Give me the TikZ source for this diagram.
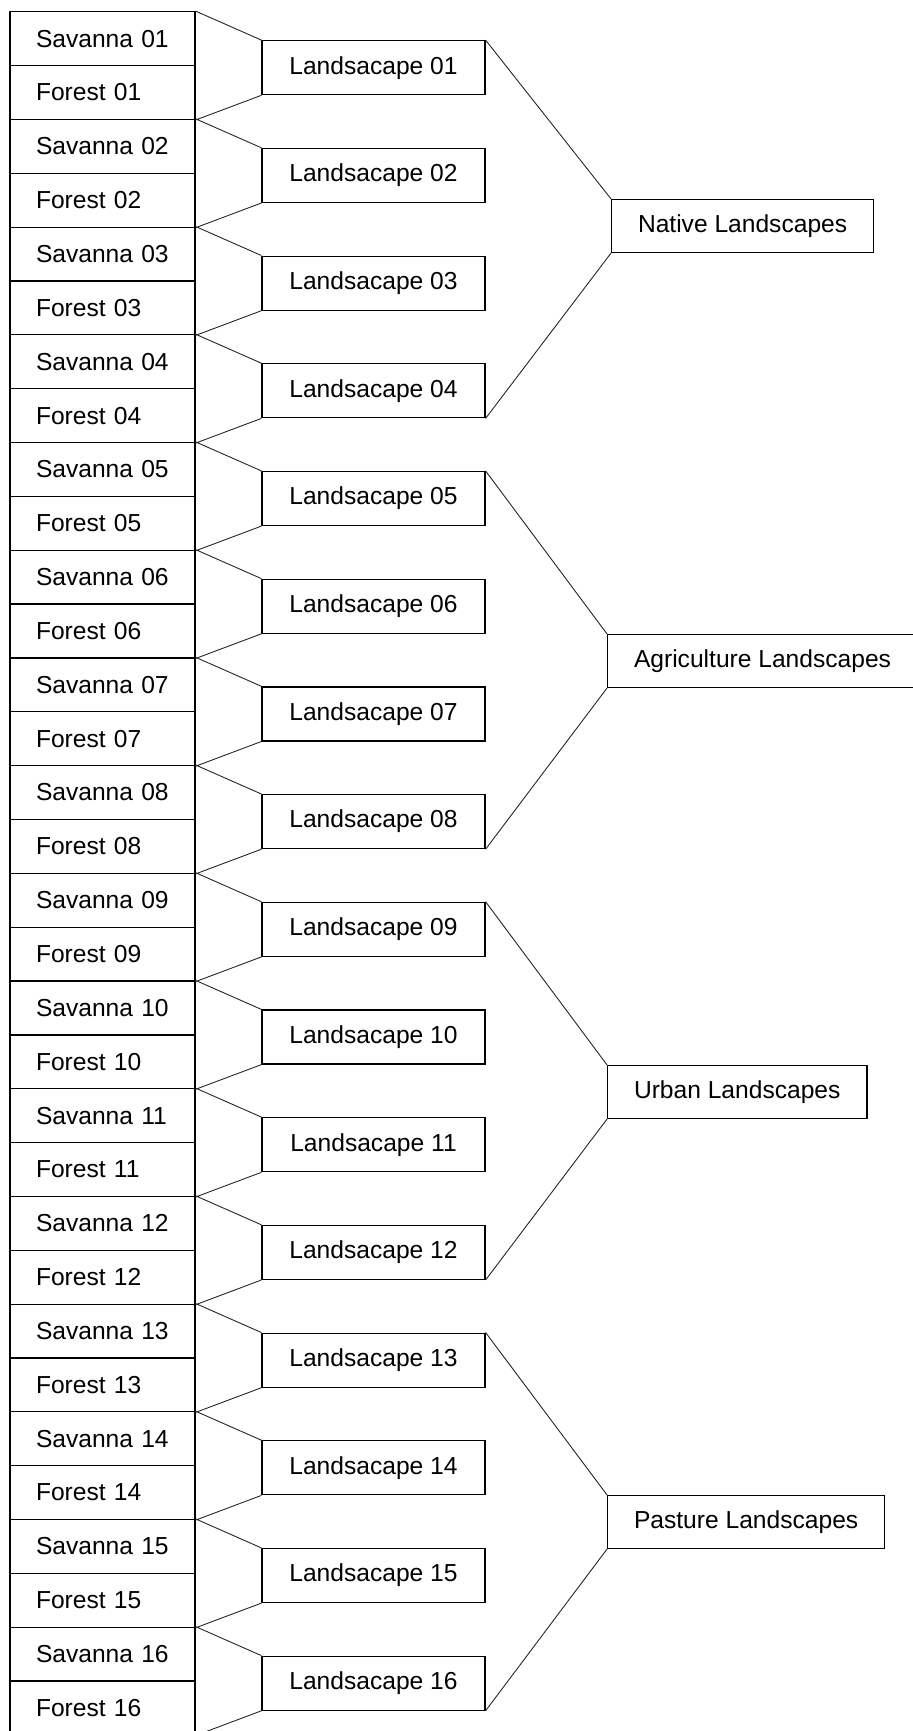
\documentclass[tikz,border=0pt]{standalone}
\usepackage{fontspec}
\setmainfont{Liberation Sans}
\usepackage{tikz}

\begin{document}
\begin{tikzpicture}[x=.5pt,y=-.5pt,
    font=\fontsize{12.3}{14}\selectfont,
    cell/.style={draw,line width=.6pt,text width=66.5pt,align=left,
                 inner xsep=13pt,inner ysep=0pt,minimum height=26.9pt},
    land/.style={draw,line width=.6pt,minimum width=111.5pt,minimum height=27pt,inner sep=0pt},
    group/.style={draw,line width=.6pt,anchor=west,inner xsep=13.2pt,minimum height=26.5pt},
    link/.style={line width=.45pt,black!85}]
    \useasboundingbox (0,0) rectangle (913,1731);
    \clip (0,0) rectangle (913,1731);

    \node[cell] (s1) at (102.5,38.6) {Savanna 01};
    \node[cell] (f1) at (102.5,92.5) {Forest 01};
    \node[cell] (s2) at (102.5,146.3) {Savanna 02};
    \node[cell] (f2) at (102.5,200.2) {Forest 02};
    \node[cell] (s3) at (102.5,254.0) {Savanna 03};
    \node[cell] (f3) at (102.5,307.9) {Forest 03};
    \node[cell] (s4) at (102.5,361.7) {Savanna 04};
    \node[cell] (f4) at (102.5,415.6) {Forest 04};
    \node[cell] (s5) at (102.5,469.4) {Savanna 05};
    \node[cell] (f5) at (102.5,523.3) {Forest 05};
    \node[cell] (s6) at (102.5,577.1) {Savanna 06};
    \node[cell] (f6) at (102.5,631.0) {Forest 06};
    \node[cell] (s7) at (102.5,684.8) {Savanna 07};
    \node[cell] (f7) at (102.5,738.7) {Forest 07};
    \node[cell] (s8) at (102.5,792.5) {Savanna 08};
    \node[cell] (f8) at (102.5,846.4) {Forest 08};
    \node[cell] (s9) at (102.5,900.2) {Savanna 09};
    \node[cell] (f9) at (102.5,954.1) {Forest 09};
    \node[cell] (s10) at (102.5,1007.9) {Savanna 10};
    \node[cell] (f10) at (102.5,1061.8) {Forest 10};
    \node[cell] (s11) at (102.5,1115.6) {Savanna 11};
    \node[cell] (f11) at (102.5,1169.5) {Forest 11};
    \node[cell] (s12) at (102.5,1223.3) {Savanna 12};
    \node[cell] (f12) at (102.5,1277.2) {Forest 12};
    \node[cell] (s13) at (102.5,1331.0) {Savanna 13};
    \node[cell] (f13) at (102.5,1384.9) {Forest 13};
    \node[cell] (s14) at (102.5,1438.7) {Savanna 14};
    \node[cell] (f14) at (102.5,1492.6) {Forest 14};
    \node[cell] (s15) at (102.5,1546.4) {Savanna 15};
    \node[cell] (f15) at (102.5,1600.3) {Forest 15};
    \node[cell] (s16) at (102.5,1654.1) {Savanna 16};
    \node[cell] (f16) at (102.5,1708.0) {Forest 16};

    \node[land] (l1) at (373.5,67.7) {Landsacape 01};
    \node[land] (l2) at (373.5,175.4) {Landsacape 02};
    \node[land] (l3) at (373.5,283.1) {Landsacape 03};
    \node[land] (l4) at (373.5,390.8) {Landsacape 04};
    \node[land] (l5) at (373.5,498.5) {Landsacape 05};
    \node[land] (l6) at (373.5,606.2) {Landsacape 06};
    \node[land] (l7) at (373.5,713.9) {Landsacape 07};
    \node[land] (l8) at (373.5,821.6) {Landsacape 08};
    \node[land] (l9) at (373.5,929.3) {Landsacape 09};
    \node[land] (l10) at (373.5,1037.0) {Landsacape 10};
    \node[land] (l11) at (373.5,1144.7) {Landsacape 11};
    \node[land] (l12) at (373.5,1252.4) {Landsacape 12};
    \node[land] (l13) at (373.5,1360.1) {Landsacape 13};
    \node[land] (l14) at (373.5,1467.8) {Landsacape 14};
    \node[land] (l15) at (373.5,1575.5) {Landsacape 15};
    \node[land] (l16) at (373.5,1683.2) {Landsacape 16};

    \node[group] (native) at (611,226) {Native Landscapes};
    \node[group] (agri) at (607,661) {Agriculture Landscapes};
    \node[group] (urban) at (607,1092) {Urban Landscapes};
    \node[group] (pasture) at (607,1522) {Pasture Landscapes};

    % savanna / forest pairs
    \draw[link] (s1.north east)--(l1.north west) (f1.south east)--(l1.south west)
          (s2.north east)--(l2.north west) (f2.south east)--(l2.south west)
          (s3.north east)--(l3.north west) (f3.south east)--(l3.south west)
          (s4.north east)--(l4.north west) (f4.south east)--(l4.south west)
          (s5.north east)--(l5.north west) (f5.south east)--(l5.south west)
          (s6.north east)--(l6.north west) (f6.south east)--(l6.south west)
          (s7.north east)--(l7.north west) (f7.south east)--(l7.south west)
          (s8.north east)--(l8.north west) (f8.south east)--(l8.south west)
          (s9.north east)--(l9.north west) (f9.south east)--(l9.south west)
          (s10.north east)--(l10.north west) (f10.south east)--(l10.south west)
          (s11.north east)--(l11.north west) (f11.south east)--(l11.south west)
          (s12.north east)--(l12.north west) (f12.south east)--(l12.south west)
          (s13.north east)--(l13.north west) (f13.south east)--(l13.south west)
          (s14.north east)--(l14.north west) (f14.south east)--(l14.south west)
          (s15.north east)--(l15.north west) (f15.south east)--(l15.south west)
          (s16.north east)--(l16.north west) (f16.south east)--(l16.south west)
          ;

    % landscape groups
    \draw[link] (l1.north east)--(native.north west) (l4.south east)--(native.south west)
          (l5.north east)--(agri.north west) (l8.south east)--(agri.south west)
          (l9.north east)--(urban.north west) (l12.south east)--(urban.south west)
          (l13.north east)--(pasture.north west) (l16.south east)--(pasture.south west)
          ;

  \end{tikzpicture}
\end{document}
